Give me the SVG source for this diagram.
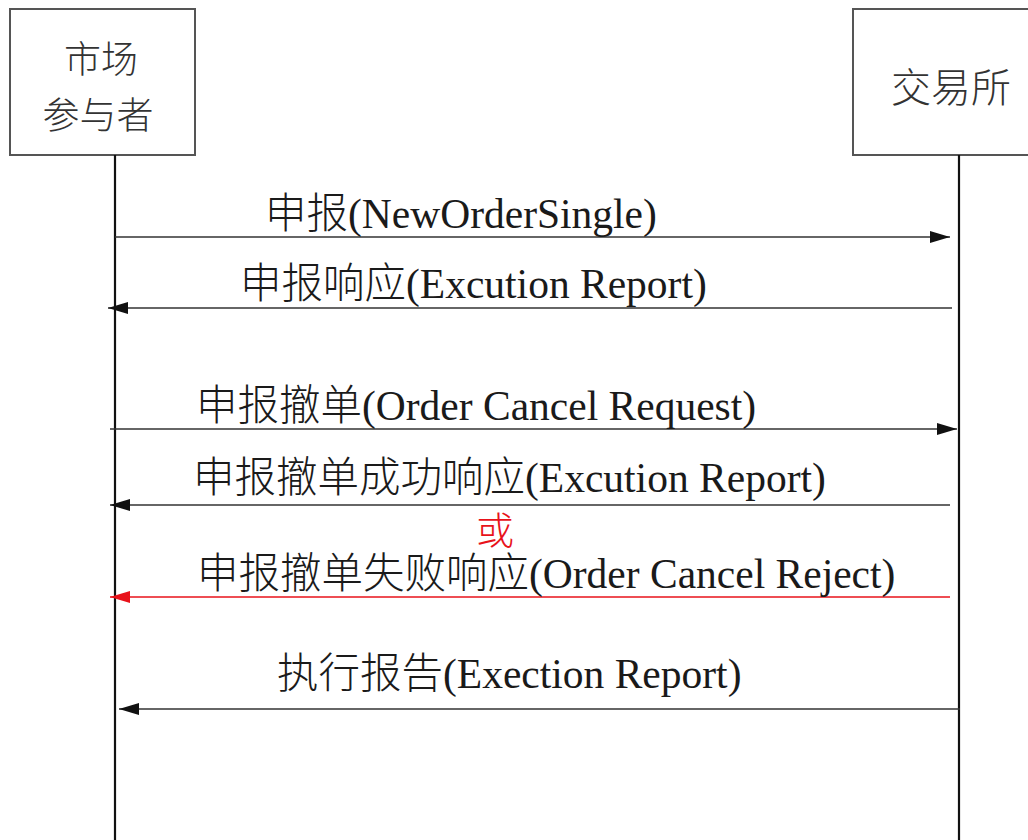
<svg xmlns="http://www.w3.org/2000/svg" width="1028" height="840" viewBox="0 0 1028 840">
<style>
.box{fill:#fff;stroke:#555;stroke-width:2}
.life{stroke:#111;stroke-width:2.2;fill:none}
.msg{stroke:#333;stroke-width:1.6;fill:none}
.red{stroke:#e8121a;stroke-width:1.4;fill:none}
text{font-family:"Liberation Serif","Noto Sans CJK SC",serif;fill:#1a1a1a;font-weight:300}
.lbl{font-size:41.5px}
.hdr{font-size:38px;text-anchor:middle;fill:#333}
</style>
<defs>
<marker id="ah" markerUnits="userSpaceOnUse" markerWidth="22" markerHeight="14" refX="20" refY="6" orient="auto">
<path d="M0,0 L20,6 L0,12 z" fill="#111"/>
</marker>
<marker id="ahr" markerUnits="userSpaceOnUse" markerWidth="22" markerHeight="14" refX="20" refY="6" orient="auto">
<path d="M0,0 L20,6 L0,12 z" fill="#e8121a"/>
</marker>
</defs>
<g id="participant">
<rect class="box" x="10" y="9" width="185" height="146"/>
<text class="hdr" x="101" y="73" style="font-size:37px">市场</text>
<text class="hdr" x="98" y="129" style="font-size:37px">参与者</text>
</g>
<g id="exchange">
<rect class="box" x="853" y="9" width="185" height="146"/>
<text class="hdr" x="951" y="102" style="font-size:40px">交易所</text>
</g>
<g id="lifelines">
<line class="life" x1="115" y1="155" x2="115" y2="840"/>
<line class="life" x1="959" y1="155" x2="959" y2="840"/>
</g>
<g id="connectors">
<line class="msg" x1="115" y1="237" x2="950" y2="237" marker-end="url(#ah)"/>
<line class="msg" x1="952" y1="308" x2="108" y2="308" marker-end="url(#ah)"/>
<line class="msg" x1="110" y1="429" x2="957" y2="429" marker-end="url(#ah)"/>
<line class="msg" x1="950" y1="505" x2="110" y2="505" marker-end="url(#ah)"/>
<line class="red" x1="950" y1="597" x2="110" y2="597" marker-end="url(#ahr)"/>
<line class="msg" x1="960" y1="709" x2="119" y2="709" marker-end="url(#ah)"/>
</g>
<g id="labels">
<text class="lbl" x="265" y="228">申报(NewOrderSingle)</text>
<text class="lbl" x="240" y="298">申报响应(Excution Report)</text>
<text class="lbl" x="196" y="420">申报撤单(Order Cancel Request)</text>
<text class="lbl" x="193" y="492">申报撤单成功响应(Excution Report)</text>
<text class="lbl" x="476" y="544" style="fill:#e8121a;font-size:38px">或</text>
<text class="lbl" x="197" y="588">申报撤单失败响应(Order Cancel Reject)</text>
<text class="lbl" x="277" y="688">执行报告(Exection Report)</text>
</g>
</svg>
